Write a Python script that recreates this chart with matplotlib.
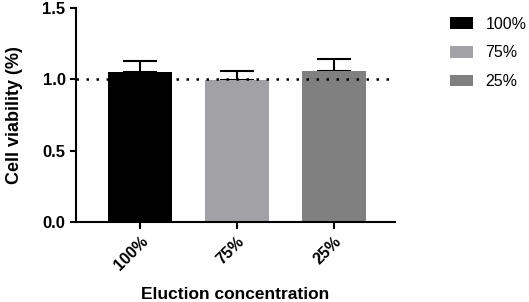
import matplotlib
matplotlib.use("Agg")
import matplotlib.pyplot as plt
from matplotlib.patches import Patch

categories = ["100%", "75%", "25%"]
means = [1.053, 0.995, 1.058]
errors = [0.077, 0.063, 0.086]
colors = ["#000000", "#a2a2a6", "#808080"]
yticks = [0.0, 0.5, 1.0, 1.5]
ref_value = 1.0

plt.rcParams['font.family'] = ['Liberation Sans', 'DejaVu Sans']

fig = plt.figure(figsize=(5.29, 3.02), dpi=100)
ax = fig.add_axes([0.1437, 0.265, 0.603, 0.7085])

x = list(range(len(categories)))
ax.bar(x, means, width=0.66, color=colors, zorder=2)
ax.errorbar(x, means, yerr=[[0]*len(errors), errors], fmt='none', ecolor='black',
            elinewidth=1.5, capsize=12, capthick=1.5, zorder=1)
ax.axhline(ref_value, color='black', lw=1.8, linestyle=(0, (1, 3)), zorder=3)

ax.set_xlim(-0.66, 2.63)
ax.set_ylim(0, 1.5)
ax.set_yticks(yticks)
ax.set_yticklabels([f"{v:.1f}" for v in yticks], fontsize=12, fontweight='bold')
ax.set_xticks(x)
ax.set_xticklabels(categories, rotation=45, ha='right', rotation_mode='anchor',
                   fontsize=11.5, fontweight='bold')
for s in ['top', 'right']:
    ax.spines[s].set_visible(False)
for s in ['left', 'bottom']:
    ax.spines[s].set_linewidth(1.5)
ax.tick_params(axis='both', width=1.5, length=4)
ax.tick_params(axis='x', length=5)

ax.set_ylabel("Cell viability (%)", fontsize=13, fontweight='bold', labelpad=14)
ax.set_xlabel("Eluction concentration", fontsize=12.5, fontweight='bold', labelpad=10)

handles = [Patch(facecolor=c, edgecolor='none') for c in colors]
fig.legend(handles, categories, loc='upper left', bbox_to_anchor=(0.845, 0.955),
           frameon=False, fontsize=11.5, handlelength=1.4, handleheight=0.75,
           labelspacing=0.85, handletextpad=0.8, borderaxespad=0, borderpad=0.2)

fig.savefig("out.png", dpi=100)
